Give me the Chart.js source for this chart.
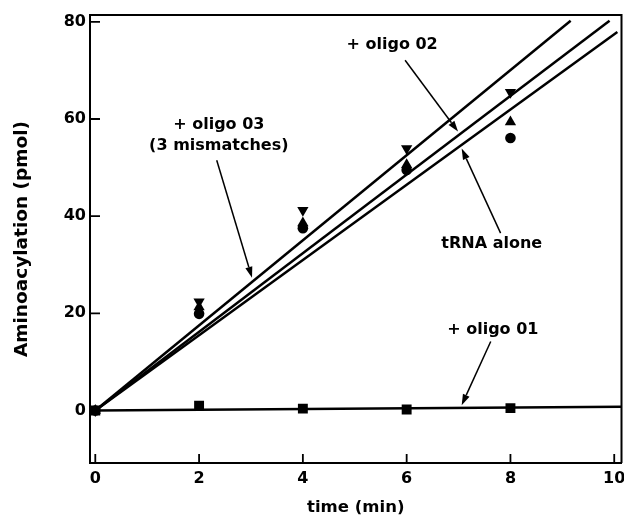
<!DOCTYPE html>
<html>
<head>
<meta charset="utf-8">
<script src="https://cdn.jsdelivr.net/npm/chart.js@4.4.1/dist/chart.umd.min.js"></script>
<style>
    html, body { margin: 0; padding: 0; background: #ffffff; }
    #wrap { width: 624px; height: 520px; }
</style>
</head>
<body>
<div id="wrap"><canvas id="chart" width="624" height="520"></canvas></div>
<script>
// Measured values (pmol) at each time point
const timeMin = [0, 2, 4, 6, 8];
const trnaAlone = [0, 19.9, 37.5, 49.5, 56.1];   // circles
const oligo02 = [0, 21.3, 38.6, 50.6, 59.4];     // up triangles
const oligo03 = [0, 22.4, 41.2, 53.9, 65.5];     // down triangles
const oligo01 = [0, 1.0, 0.4, 0.2, 0.5];         // squares

// Fitted lines through the origin: end point of each line
const fitNames = ['+ oligo 03', '+ oligo 02', 'tRNA alone', '+ oligo 01'];
const fitEndX = [9.16, 9.91, 10.06, 10.14];
const fitEndY = [80.2, 80.2, 77.9, 0.8];

const xTicks = [0, 2, 4, 6, 8, 10];
const yTicks = [0, 20, 40, 60, 80];

const FONT = "'DejaVu Sans', sans-serif";

// Labels with arrows, in data coordinates
const notes = [
    { lines: ['+ oligo 02'], x: 5.72, y: 75.2, from: [5.97, 72.1], to: [6.99, 57.4] },
    { lines: ['+ oligo 03', '(3 mismatches)'], x: 2.38, y: 58.7, from: [2.34, 51.5], to: [3.02, 27.3] },
    { lines: ['tRNA alone'], x: 7.64, y: 34.3, from: [7.81, 36.5], to: [7.06, 53.9] },
    { lines: ['+ oligo 01'], x: 7.66, y: 16.6, from: [7.62, 14.2], to: [7.06, 1.1] }
];

function points(ys) {
    return timeMin.map((t, i) => ({ x: t, y: ys[i] }));
}

function markerSet(label, ys, style, radius, rotation) {
    return {
        label: label,
        data: points(ys),
        showLine: false,
        pointStyle: style,
        pointRadius: radius,
        pointRotation: rotation || 0,
        pointBackgroundColor: '#000000',
        pointBorderColor: '#000000',
        pointBorderWidth: 0
    };
}

const lineSets = fitNames.map((name, i) => ({
    label: name + ' fit',
    data: [{ x: 0, y: 0 }, { x: fitEndX[i], y: fitEndY[i] }],
    showLine: true,
    borderColor: '#000000',
    borderWidth: 2.5,
    pointRadius: 0,
    fill: false
}));

// Frame, inward tick marks, arrows and labels
const decorPlugin = {
    id: 'decor',
    afterDatasetsDraw(chart) {
        const ctx = chart.ctx;
        const area = chart.chartArea;
        const xs = chart.scales.x;
        const ys = chart.scales.y;
        ctx.save();
        ctx.strokeStyle = '#000000';
        ctx.lineWidth = 2;
        ctx.beginPath();
        ctx.moveTo(area.left, area.top);
        ctx.lineTo(area.right, area.top);
        ctx.lineTo(area.right, area.bottom);
        ctx.stroke();

        ctx.lineWidth = 1.8;
        ctx.beginPath();
        yTicks.forEach(v => {
            const py = ys.getPixelForValue(v);
            ctx.moveTo(area.left, py);
            ctx.lineTo(area.left + 10, py);
        });
        xTicks.forEach(v => {
            const px = xs.getPixelForValue(v);
            ctx.moveTo(px, area.bottom);
            ctx.lineTo(px, area.bottom - 9);
        });
        ctx.stroke();

        ctx.fillStyle = '#000000';
        ctx.font = 'bold 16px ' + FONT;
        ctx.textAlign = 'center';
        ctx.textBaseline = 'middle';
        notes.forEach(n => {
            const cx = xs.getPixelForValue(n.x);
            const cy = ys.getPixelForValue(n.y);
            n.lines.forEach((s, k) => ctx.fillText(s, cx, cy + k * 21));

            const x0 = xs.getPixelForValue(n.from[0]);
            const y0 = ys.getPixelForValue(n.from[1]);
            const x1 = xs.getPixelForValue(n.to[0]);
            const y1 = ys.getPixelForValue(n.to[1]);
            const ang = Math.atan2(y1 - y0, x1 - x0);
            const head = 11;
            const half = 3.6;
            const bx = x1 - Math.cos(ang) * head;
            const by = y1 - Math.sin(ang) * head;
            ctx.lineWidth = 1.5;
            ctx.beginPath();
            ctx.moveTo(x0, y0);
            ctx.lineTo(bx, by);
            ctx.stroke();
            ctx.beginPath();
            ctx.moveTo(x1, y1);
            ctx.lineTo(bx - Math.sin(ang) * half, by + Math.cos(ang) * half);
            ctx.lineTo(bx + Math.sin(ang) * half, by - Math.cos(ang) * half);
            ctx.closePath();
            ctx.fill();
        });
        ctx.restore();
    }
};

const ctx = document.getElementById('chart').getContext('2d');
new Chart(ctx, {
    type: 'scatter',
    data: {
        datasets: [
            ...lineSets,
            markerSet('tRNA alone', trnaAlone, 'circle', 5.3),
            markerSet('+ oligo 02', oligo02, 'triangle', 6.5),
            markerSet('+ oligo 03', oligo03, 'triangle', 6.5, 180),
            markerSet('+ oligo 01', oligo01, 'rect', 7)
        ]
    },
    options: {
        responsive: false,
        animation: false,
        devicePixelRatio: 1,
        layout: {
            autoPadding: false,
            padding: { top: 15, right: 2.5, left: 0, bottom: 0 }
        },
        plugins: {
            legend: { display: false },
            tooltip: { enabled: false }
        },
        scales: {
            x: {
                type: 'linear',
                min: -0.102,
                max: 10.14,
                afterFit: scale => {
                    scale.height = 57;
                    scale.paddingLeft = 0;
                    scale.paddingRight = 0;
                },
                afterBuildTicks: scale => { scale.ticks = xTicks.map(v => ({ value: v })); },
                grid: { drawOnChartArea: false, drawTicks: false },
                border: { display: true, color: '#000000', width: 2 },
                ticks: {
                    color: '#000000',
                    padding: 6,
                    maxRotation: 0,
                    autoSkip: false,
                    font: { family: FONT, size: 16, weight: 'bold' }
                },
                title: {
                    display: true,
                    text: 'time (min)',
                    color: '#000000',
                    padding: { top: 0, bottom: 2 },
                    font: { family: FONT, size: 16.5, weight: 'bold' }
                }
            },
            y: {
                type: 'linear',
                min: -10.8,
                max: 81.4,
                afterFit: scale => {
                    scale.width = 90;
                    scale.paddingTop = 0;
                    scale.paddingBottom = 0;
                },
                afterBuildTicks: scale => { scale.ticks = yTicks.map(v => ({ value: v })); },
                grid: { drawOnChartArea: false, drawTicks: false },
                border: { display: true, color: '#000000', width: 2 },
                ticks: {
                    color: '#000000',
                    padding: 4,
                    autoSkip: false,
                    font: { family: FONT, size: 16, weight: 'bold' }
                },
                title: {
                    display: true,
                    text: 'Aminoacylation (pmol)',
                    color: '#000000',
                    padding: { top: 11, bottom: 0 },
                    font: { family: FONT, size: 18.5, weight: 'bold' }
                }
            }
        }
    },
    plugins: [decorPlugin]
});
</script>
</body>
</html>
